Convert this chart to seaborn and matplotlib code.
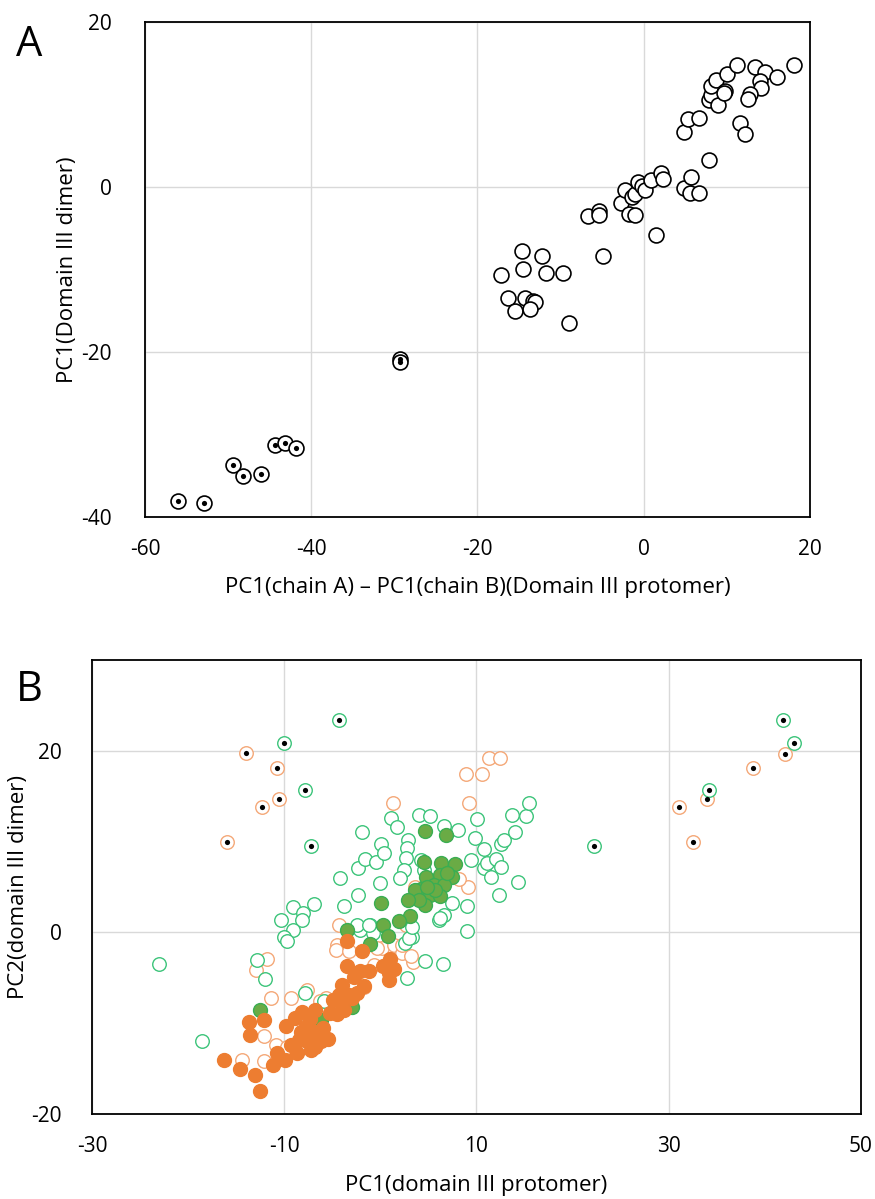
import matplotlib
matplotlib.use("Agg")
import matplotlib.pyplot as plt
import seaborn as sns

sns.set_style("white")
plt.rcParams['font.family'] = ['Open Sans', 'DejaVu Sans']
plt.rcParams['axes.unicode_minus'] = False
plt.rcParams['text.color'] = 'black'
plt.rcParams['axes.labelcolor'] = 'black'

# ---------- panel A ----------
a_open_x = [-17.2, -14.7, -12.2, -14.55, -11.7, -9.7, -4.9, -16.3, -14.3, -13.3, -13.1, -15.5, -13.7, -9.0,
            -6.7, -5.35, -5.35, -2.7, -2.2, -1.8, -1.0, -1.4, -1.0, -0.65, -0.16, 0.2, 0.85, 2.1, 2.3,
            1.5, 4.9, 5.6, 6.6, 5.7, 7.9,
            4.9, 5.3, 6.6, 11.6, 12.2, 7.85, 8.1, 8.9, 8.1, 8.7, 9.8, 9.7, 10.0, 11.2, 13.4, 14.6,
            16.0, 18.1, 14.0, 14.1, 12.8, 12.5]
a_open_y = [-10.7, -7.8, -8.4, -9.9, -10.4, -10.4, -8.4, -13.5, -13.4, -13.8, -13.9, -15.0, -14.8, -16.5,
            -3.5, -2.9, -3.4, -1.9, -0.3, -3.3, -3.4, -1.2, -0.8, 0.6, 0.1, -0.4, 0.9, 1.7, 1.0,
            -5.8, -0.1, -0.7, -0.7, 1.2, 3.3,
            6.7, 8.2, 8.4, 7.8, 6.4, 10.6, 11.2, 10.0, 12.3, 13.0, 11.6, 11.4, 13.7, 14.8, 14.5, 13.9,
            13.3, 14.8, 12.9, 12.0, 11.3, 10.7]

a_dot_x = [-56.0, -52.9, -49.4, -48.2, -46.0, -44.3, -43.2, -41.8, -29.3, -29.3]
a_dot_y = [-38.0, -38.3, -33.7, -35.0, -34.8, -31.3, -31.0, -31.6, -20.8, -21.2]

# ---------- panel B ----------
b_gopen_x = [-23.0, -18.6, -9.1, -8.0, -6.95, -10.35, -8.1, -9.1, -10.0, -9.7, -12.85, -12.0, -7.8,
             -3.75, -2.3, -4.2, -2.3, -1.9, -1.56, -0.5, 0.07, 0.35, 0.0, 1.1, 1.74, 4.0, 5.2, 6.6,
             8.1, 2.9, 2.8, 2.64, 2.5, 2.0, 4.2, 4.5, -2.1, -1.1, -0.77, 2.6, 3.3, 2.8, 4.6, 6.5,
             6.1, 6.6, 7.5, 9.0, 9.0, 9.4, 9.8, 10.1, 10.8, 10.8, 11.5, 11.1, 12.0, 12.5, 12.6,
             12.85, 12.3, 14.0, 13.7, 15.1, 15.45, 14.3, -2.4, -1.2, 2.95, 3.3, -5.9, 6.25]
b_gopen_y = [-3.5, -12.0, 2.8, 2.1, 3.1, 1.4, 1.4, 0.3, -0.5, -1.0, -3.0, -5.1, -6.7,
             2.9, 4.1, 6.0, 7.05, 11.0, 8.1, 7.8, 9.7, 8.7, 5.4, 12.6, 11.6, 12.9, 12.8, 11.7,
             11.3, 10.2, 9.3, 8.15, 6.9, 6.0, 8.0, 6.9, 0.3, 0.8, -0.1, -1.2, -0.5, -5.05, -3.2, -3.5,
             1.4, 1.9, 3.2, 2.9, 0.2, 8.0, 10.4, 12.5, 9.15, 7.05, 6.1, 7.6, 8.05, 7.2, 9.7,
             10.2, 4.1, 11.0, 12.9, 12.8, 14.3, 5.5, 0.8, 0.8, -0.65, 0.6, -7.6, 1.55]

b_oopen_x = [11.3, 12.4, 8.9, 10.6, 9.2, 1.3, 9.1, 8.2, 3.65, 2.7, -4.35, -4.5, -4.6, -3.3, 0.2,
             1.4, 2.3, 3.4, 3.2, -0.7, -11.8, -12.9, -11.4, -9.3, -7.6, -5.7, -6.25, -12.15, -14.4,
             -12.15, -10.9, -9.7, -1.7, -0.35, 2.3]
b_oopen_y = [19.25, 19.25, 17.4, 17.4, 14.3, 14.3, 5.0, 5.9, 5.0, 0.8, 0.8, -1.4, -1.9, -2.1, -1.75,
             -1.4, -2.3, -3.3, -2.6, -3.6, -2.96, -4.1, -7.2, -7.2, -6.4, -7.2, -7.6, -11.4, -14.1,
             -14.2, -12.4, -12.6, -6.0, -1.75, -1.4]

b_ofill_x = [-16.3, -14.6, -13.0, -12.5, -13.7, -13.6, -12.1, -11.2, -10.75, -9.9, -9.85, -8.85, -8.7,
             -8.2, -8.5, -8.3, -7.7, -7.6, -6.85, -6.8, -6.2, -5.4, -6.8, -5.2, -4.9, -4.3, -3.95,
             -3.3, -3.75, -2.7, -2.4, -1.75, -1.2, -2.1, -3.5, -1.95, -3.5, 0.3, 1.0, 1.4, 0.9, 0.9,
             -7.3, -6.0, -4.5, -4.0, -2.9, -7.2, -9.3]
b_ofill_y = [-14.05, -15.05, -15.7, -17.45, -9.9, -11.3, -9.6, -14.6, -13.25, -14.05, -10.35, -9.4, -13.3,
             -8.8, -11.9, -11.0, -10.4, -12.0, -12.6, -8.55, -11.95, -11.75, -11.0, -8.9, -7.4, -6.9, -5.85,
             -6.85, -8.5, -4.95, -6.7, -5.9, -4.2, -4.3, -3.75, -2.05, -1.0, -3.7, -2.95, -4.05, -5.2, -4.5,
             -9.5, -10.5, -9.0, -7.7, -7.2, -13.0, -12.4]

b_gfill_x = [4.65, 6.8, 4.55, 6.3, 7.8, 7.5, 6.25, 4.75, 5.6, 6.6, 4.2, 3.65, 5.2, 6.25, 4.6, 4.0,
             2.9, 3.1, 1.9, 0.07, 0.3, 0.8, -1.05, -3.5, 5.7, 4.85, 6.95, -12.5, -6.35, -6.2, -2.95]
b_gfill_y = [11.2, 10.7, 7.75, 7.6, 7.5, 6.06, 6.3, 6.06, 5.2, 5.2, 4.8, 4.67, 4.1, 4.0, 3.0, 3.6,
             3.6, 1.8, 1.2, 3.27, 0.8, -0.4, -1.3, 0.3, 4.7, 5.0, 6.5, -8.5, -10.2, -9.6, -8.25]

b_gdot_x = [-4.3, -10.0, -7.8, -7.2, 41.9, 43.05, 34.2, 22.2]
b_gdot_y = [23.4, 20.9, 15.7, 9.5, 23.4, 20.9, 15.7, 9.5]
b_odot_x = [-14.0, -10.7, -10.55, -12.3, -16.0, 42.1, 38.75, 33.96, 31.1, 32.5]
b_odot_y = [19.8, 18.1, 14.7, 13.8, 9.9, 19.6, 18.1, 14.7, 13.8, 9.9]

ORANGE = '#ED7D31'
ORANGE_LT = '#F4A878'
GREEN_LN = '#3CC47A'
GREEN_FILL = '#6AAB45'
GREEN_EDGE = '#3AAE52'
GRID = '#D9D9D9'


def estilizarEixo(ax):
    ax.grid(True, color=GRID, linewidth=1.0)
    ax.set_axisbelow(True)
    for s in ax.spines.values():
        s.set_visible(True)
        s.set_color('black')
        s.set_linewidth(1.3)
    ax.tick_params(length=0, labelsize=15, colors='black')


fig = plt.figure(figsize=(8.75, 11.99), dpi=100)

# Painel A
axA = fig.add_axes([0.1657, 0.5688, 0.76, 0.4128])
sns.scatterplot(x=a_open_x, y=a_open_y, ax=axA, s=115, facecolor='white',
                edgecolor='black', linewidth=1.2, zorder=3)
sns.scatterplot(x=a_dot_x, y=a_dot_y, ax=axA, s=115, facecolor='white',
                edgecolor='black', linewidth=1.2, zorder=3)
sns.scatterplot(x=a_dot_x, y=a_dot_y, ax=axA, s=14, color='black', linewidth=0, zorder=4)
axA.set_xlim(-60, 20)
axA.set_ylim(-40, 20)
axA.set_xticks([-60, -40, -20, 0, 20])
axA.set_yticks([-40, -20, 0, 20])
estilizarEixo(axA)
axA.tick_params(axis='x', pad=16)
axA.tick_params(axis='y', pad=24)
axA.set_xlabel('PC1(chain A) \u2013 PC1(chain B)(Domain III protomer)', fontsize=16)
axA.set_ylabel('PC1(Domain III dimer)', fontsize=16)
axA.xaxis.set_label_coords(0.5, -0.122)
axA.yaxis.set_label_coords(-0.1, 0.5)

# Painel B
axB = fig.add_axes([0.1051, 0.0709, 0.8789, 0.3787])
kw_open = dict(s=95, facecolor='white', linewidth=1.0, zorder=3)
sns.scatterplot(x=b_oopen_x, y=b_oopen_y, ax=axB, edgecolor=ORANGE_LT, **kw_open)
sns.scatterplot(x=b_gopen_x, y=b_gopen_y, ax=axB, edgecolor=GREEN_LN, **kw_open)
sns.scatterplot(x=b_gfill_x, y=b_gfill_y, ax=axB, s=100, color=GREEN_FILL,
                edgecolor=GREEN_EDGE, linewidth=1.0, zorder=4)
sns.scatterplot(x=b_ofill_x, y=b_ofill_y, ax=axB, s=100, color=ORANGE,
                edgecolor=ORANGE, linewidth=1.0, zorder=4)
sns.scatterplot(x=b_odot_x, y=b_odot_y, ax=axB, edgecolor=ORANGE_LT, **kw_open)
sns.scatterplot(x=b_gdot_x, y=b_gdot_y, ax=axB, edgecolor=GREEN_LN, **kw_open)
sns.scatterplot(x=b_odot_x + b_gdot_x, y=b_odot_y + b_gdot_y, ax=axB, s=14,
                color='black', linewidth=0, zorder=5)
axB.set_xlim(-30, 50)
axB.set_ylim(-20, 30)
axB.set_xticks([-30, -10, 10, 30, 50])
axB.set_yticks([-20, 0, 20])
estilizarEixo(axB)
axB.tick_params(axis='x', pad=16)
axB.tick_params(axis='y', pad=22)
axB.set_xlabel('PC1(domain III protomer)', fontsize=16)
axB.set_ylabel('PC2(domain III dimer)', fontsize=16)
axB.xaxis.set_label_coords(0.5, -0.135)
axB.yaxis.set_label_coords(-0.082, 0.5)

fig.text(0.033, 0.9625, 'A', fontsize=30, ha='center', va='center')
fig.text(0.033, 0.4245, 'B', fontsize=30, ha='center', va='center')

fig.savefig('out.png', dpi=100)
